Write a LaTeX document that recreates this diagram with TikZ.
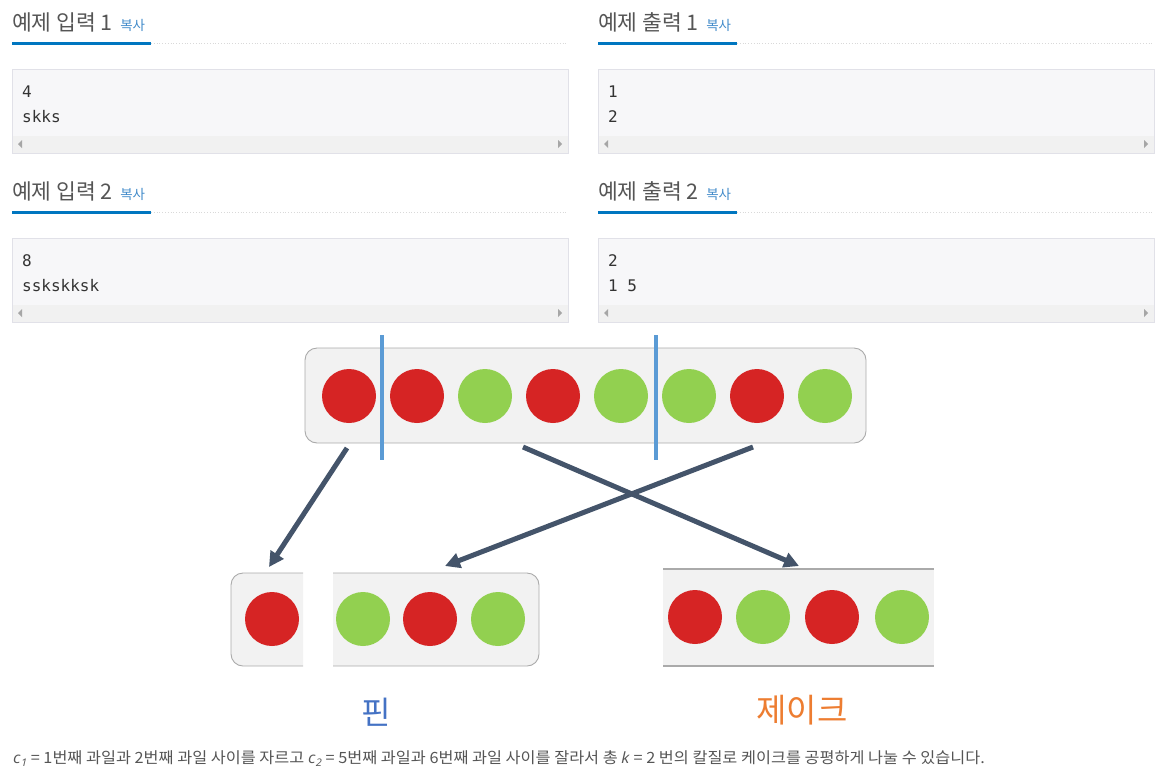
\documentclass[tikz,border=0pt]{standalone}
\usepackage{fontspec}
\usepackage{tikz}
\usetikzlibrary{arrows.meta,positioning}
\setmainfont{Noto Sans CJK KR}
\newfontfamily\codefont{DejaVu Sans Mono}
\newfontfamily\varfont{Open Sans}
\definecolor{fruitred}{HTML}{D62424}
\definecolor{fruitgreen}{HTML}{92D050}
\definecolor{cutblue}{HTML}{5B9BD5}
\definecolor{arrowgray}{HTML}{44546A}
\definecolor{tabblue}{HTML}{0076C0}
\definecolor{copyblue}{HTML}{428BCA}
\definecolor{pinblue}{HTML}{4472C4}
\definecolor{jakeorange}{HTML}{ED7D31}
\definecolor{boxfill}{HTML}{F2F2F2}
\definecolor{boxline}{HTML}{AAAAAA}
\definecolor{codefill}{HTML}{F7F7F9}
\definecolor{codeline}{HTML}{E1E1E8}
\definecolor{barfill}{HTML}{F1F1F1}
\definecolor{headtext}{HTML}{555555}
\newcommand\cutvar[2]{{\varfont\itshape #1\kern0.5pt\raisebox{-3pt}{\fontsize{10.5}{11}\selectfont #2}}}

\begin{document}
\begin{tikzpicture}[x=1pt,y=-1pt,
    headtitle/.style={inner sep=0pt,text=headtext,font=\fontsize{21.5}{24}\selectfont},
    copytag/.style={inner sep=0pt,text=copyblue,font=\fontsize{13.5}{15}\selectfont},
    tabline/.style={tabblue,line width=3pt},
    rule/.style={black!15,line width=0.8pt,dotted},
    codebox/.style={fill=codefill,draw=codeline,line width=1pt},
    codetext/.style={inner sep=0pt,text=black!80,font=\codefont\fontsize{16}{18}\selectfont},
    scrolltip/.style={fill=black!35},
    fruitbox/.style={fill=boxfill,draw=boxline,line width=0.9pt},
    fruit/.style={circle,minimum size=54pt,inner sep=0pt},
    redfruit/.style={fill=fruitred},
    greenfruit/.style={fill=fruitgreen},
    cutline/.style={cutblue,line width=4pt},
    move/.style={arrowgray,line width=5pt,-{Triangle[length=15pt,width=15pt]}},
    cakename/.style={inner sep=0pt,font=\fontsize{32}{36}\selectfont},
    notetext/.style={inner sep=0pt,text=headtext,font=\fontsize{15.5}{17}\selectfont}]
  \useasboundingbox (0,0) rectangle (1166,777);

  % sample panels
  \foreach \px/\py/\heading/\lineA/\lineB [count=\n] in
      {0/0/예제 입력 1/4/skks, 586/0/예제 출력 1/1/2,
       0/169/예제 입력 2/8/sskskksk, 586/169/예제 출력 2/2/1 5} {
    \node[headtitle,anchor=base west] (head\n) at ({12+\px},{30+\py}) {\heading};
    \node[copytag,anchor=base west] (copy\n) at ([xshift=7pt]head\n.base east) {복사};
    \draw[rule] ({151+\px},{43+\py}) -- ({568+\px},{43+\py});
    \draw[tabline] ({12+\px},{43+\py}) -- ({151+\px},{43+\py});
    \filldraw[codebox] ({12+\px},{69+\py}) rectangle ({568+\px},{153+\py});
    \fill[barfill] ({12.5+\px},{136+\py}) rectangle ({567.5+\px},{152.5+\py});
    \fill[scrolltip] ({18+\px},{144+\py}) -- ++(4,-4) -- ++(0,8) -- cycle;
    \fill[scrolltip] ({562+\px},{144+\py}) -- ++(-4,-4) -- ++(0,8) -- cycle;
    \node[codetext,anchor=base west] (first\n) at ({22+\px},{97+\py}) {\lineA};
    \node[codetext,anchor=base west] (second\n) at ({22+\px},{122+\py}) {\lineB};
  }

  % the whole cake
  \filldraw[fruitbox,rounded corners=12pt] (305,348) rectangle (866,443);
  \foreach \kind [count=\i] in {redfruit,redfruit,greenfruit,redfruit,greenfruit,greenfruit,redfruit,greenfruit}
    \node[fruit,\kind] (f\i) at ({349+68*(\i-1)},396) {};
  \draw[cutline] (382,335) -- (382,460);
  \draw[cutline] (656,335) -- (656,460);

  % pieces
  \filldraw[fruitbox,rounded corners=12pt] (303,573) -- (231,573) -- (231,666) -- (303,666);
  \filldraw[fruitbox,rounded corners=12pt] (333,573) -- (539,573) -- (539,666) -- (333,666);
  \fill[boxfill] (663,569) rectangle (934,666);
  \draw[boxline,line width=1.5pt] (663,569) -- (934,569);
  \draw[boxline,line width=1.5pt] (663,666) -- (934,666);
  \node[fruit,redfruit] (p1) at (272,619) {};
  \node[fruit,greenfruit] (p2) at (363,619) {};
  \node[fruit,redfruit] (p3) at (430,619) {};
  \node[fruit,greenfruit] (p4) at (498,619) {};
  \node[fruit,redfruit] (q1) at (695,617) {};
  \node[fruit,greenfruit] (q2) at (763,617) {};
  \node[fruit,redfruit] (q3) at (832,617) {};
  \node[fruit,greenfruit] (q4) at (902,617) {};

  % moves
  \coordinate (fromA) at (347,448);
  \coordinate (fromB) at (523,447);
  \coordinate (fromC) at (753,447);
  \coordinate (toA) at (269,567);
  \coordinate (toB) at (445,566);
  \coordinate (toC) at (799,566);
  \draw[move] (fromA) -- (toA);
  \draw[move] (fromB) -- (toC);
  \draw[move] (fromC) -- (toB);

  % names
  \node[cakename,text=pinblue] (pin) at (376,712) {핀};
  \node[cakename,text=jakeorange,font=\fontsize{33}{36}\selectfont] (jake) at (802,710) {제이크};

  \node[notetext,anchor=base west] (note) at (13,763)
    {\scalebox{1.05}[1]{\cutvar{c}{1} = 1번째 과일과 2번째 과일 사이를 자르고 \cutvar{c}{2} = 5번째 과일과 6번째 과일 사이를 잘라서 총 \cutvar{k}{} = 2 번의 칼질로 케이크를 공평하게 나눌 수 있습니다.}};
\end{tikzpicture}
\end{document}
